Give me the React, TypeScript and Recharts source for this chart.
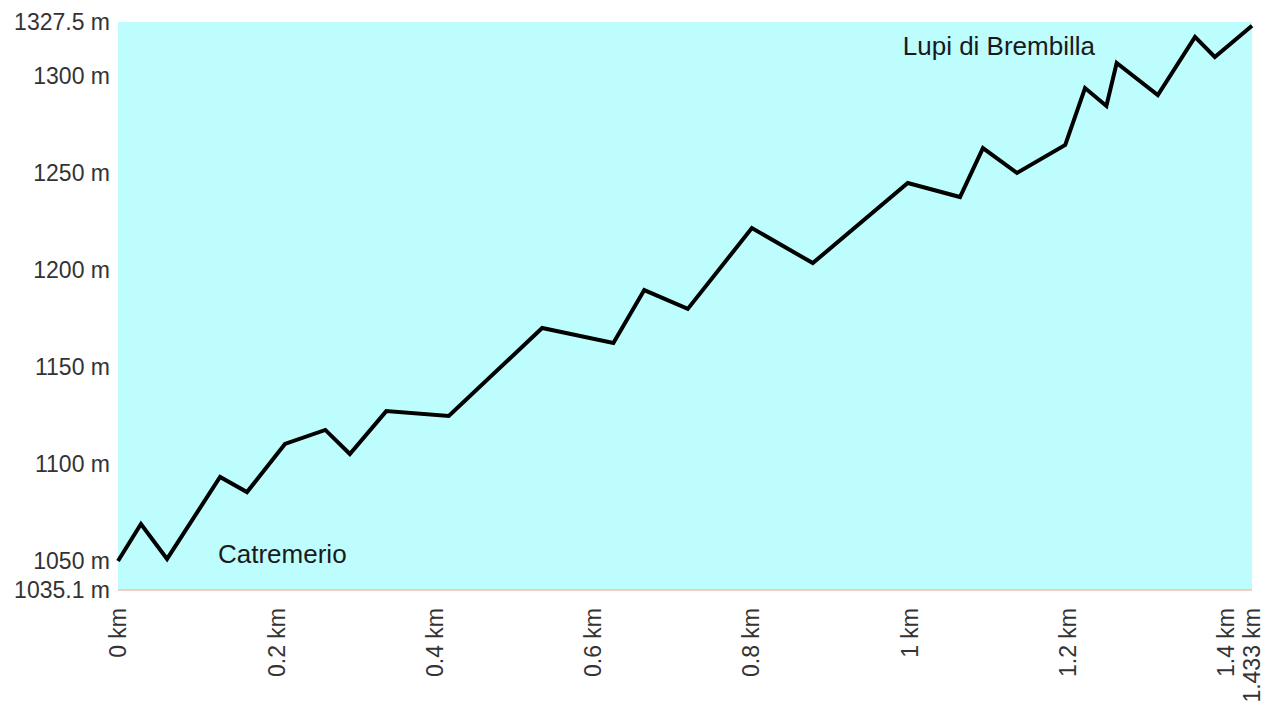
import React from "react";
import {
  LineChart, Line, XAxis, YAxis, CartesianGrid, LabelList,
} from "recharts";

// distance along the route (km) and elevation (m)
const distanceKm = [
  0, 0.029, 0.062, 0.129, 0.163, 0.211, 0.262, 0.293, 0.339, 0.418,
  0.536, 0.626, 0.665, 0.72, 0.801, 0.878, 0.998, 1.064, 1.093, 1.136,
  1.197, 1.222, 1.249, 1.262, 1.314, 1.361, 1.386, 1.433,
];
const elevationM = [
  1050, 1069.1, 1051.1, 1093.3, 1085.5, 1110.3, 1117.5, 1105.1, 1127.2, 1124.7,
  1170, 1162.3, 1189.5, 1179.8, 1221.4, 1203.4, 1244.6, 1237.4, 1262.6, 1249.8,
  1264.2, 1293.5, 1284.3, 1306.4, 1289.9, 1319.8, 1309.5, 1325.6,
];
const startName = "Catremerio";
const endName = "Lupi di Brembilla";

const xTicks = [0, 0.2, 0.4, 0.6, 0.8, 1, 1.2, 1.4, 1.433];
const yTicks = [1035.1, 1050, 1100, 1150, 1200, 1250, 1300, 1327.5];

const data = distanceKm.map((d, i) => ({ dist: d, ele: elevationM[i] }));

const FONT = "'Liberation Sans', Arial, sans-serif";

function XTick(props: any) {
  const { x, y, payload } = props;
  return (
    <text
      x={x}
      y={y + 10}
      transform={`rotate(-90, ${x}, ${y + 10})`}
      textAnchor="end"
      dy="0.36em"
      fontSize={23}
      fontFamily={FONT}
      fill="#333"
    >
      {`${payload.value} km`}
    </text>
  );
}

function YTick(props: any) {
  const { x, y, payload } = props;
  return (
    <text
      x={x}
      y={y}
      textAnchor="end"
      dy="0.36em"
      fontSize={23}
      fontFamily={FONT}
      fill="#333"
    >
      {`${payload.value} m`}
    </text>
  );
}

function PlaceLabel(props: any) {
  const { x, y, index } = props;
  if (index === 0) {
    return (
      <text x={x + 100} y={y + 2} fontSize={26} fontFamily={FONT} fill="#1a1a1a">
        {startName}
      </text>
    );
  }
  if (index === data.length - 1) {
    return (
      <text x={x - 157} y={y + 29} textAnchor="end" fontSize={26} fontFamily={FONT} fill="#1a1a1a">
        {endName}
      </text>
    );
  }
  return null;
}

export default function App() {
  return (
    <div style={{ position: "absolute", left: 0, top: 0, background: "#fff" }}>
      <LineChart
        width={1278}
        height={705}
        data={data}
        margin={{ top: 22, right: 26, left: 0, bottom: 0 }}
      >
        <CartesianGrid fill="#bdfdfd" horizontal={false} vertical={false} />
        <XAxis
          dataKey="dist"
          type="number"
          domain={[0, 1.433]}
          ticks={xTicks}
          interval={0}
          height={115}
          tickLine={false}
          axisLine={{ stroke: "#f0c0b2", strokeWidth: 1.5 }}
          tick={<XTick />}
        />
        <YAxis
          type="number"
          domain={[1035.1, 1327.5]}
          ticks={yTicks}
          interval={0}
          width={118}
          tickLine={false}
          axisLine={false}
          tick={<YTick />}
        />
        <Line
          dataKey="ele"
          type="linear"
          stroke="#000"
          strokeWidth={4}
          dot={false}
          isAnimationActive={false}
        >
          <LabelList dataKey="ele" content={<PlaceLabel />} />
        </Line>
      </LineChart>
    </div>
  );
}
